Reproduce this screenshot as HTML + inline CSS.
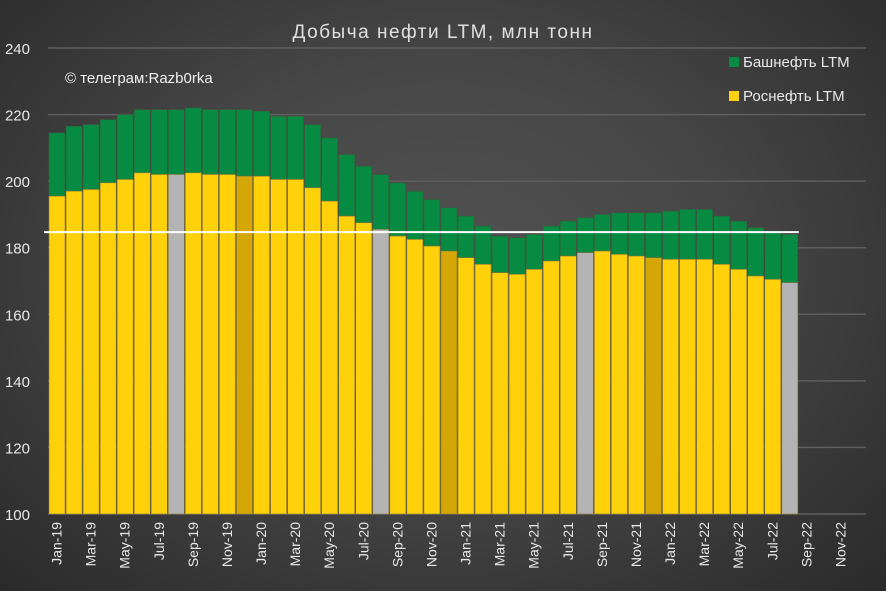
<!DOCTYPE html>
<html><head><meta charset="utf-8"><style>
body{margin:0;width:886px;height:591px;overflow:hidden;font-family:"Liberation Sans",sans-serif}
#bg{position:absolute;left:0;top:0;width:886px;height:591px;background:radial-gradient(ellipse at 50% 45%,#525252 0%,#464646 45%,#2a2a2a 100%)}
svg{position:absolute;left:0;top:0}
</style></head><body>
<div id="bg"></div>
<svg id="c" width="886" height="591"></svg>
<script>
const categories=["Jan-19","Feb-19","Mar-19","Apr-19","May-19","Jun-19","Jul-19","Aug-19","Sep-19","Oct-19","Nov-19","Dec-19","Jan-20","Feb-20","Mar-20","Apr-20","May-20","Jun-20","Jul-20","Aug-20","Sep-20","Oct-20","Nov-20","Dec-20","Jan-21","Feb-21","Mar-21","Apr-21","May-21","Jun-21","Jul-21","Aug-21","Sep-21","Oct-21","Nov-21","Dec-21","Jan-22","Feb-22","Mar-22","Apr-22","May-22","Jun-22","Jul-22","Aug-22","Sep-22","Oct-22","Nov-22","Dec-22"];
const rosneft=[195.5,197,197.5,199.5,200.5,202.5,202,202,202.5,202,202,201.5,201.5,200.5,200.5,198,194,189.5,187.5,185.5,183.5,182.5,180.5,179,177,175,172.5,172,173.5,176,177.5,178.5,179,178,177.5,177,176.5,176.5,176.5,175,173.5,171.5,170.5,169.5];
const totals=[214.5,216.5,217,218.5,220,221.5,221.5,221.5,222,221.5,221.5,221.5,221,219.5,219.5,217,213,208,204.5,202,199.5,197,194.5,192,189.5,186.5,183.5,183,184,186.5,188,189,190,190.5,190.5,190.5,191,191.5,191.5,189.5,188,186,185,184];
const refLine=[184.7];
const yTicks=[100,120,140,160,180,200,220,240];
const NS="http://www.w3.org/2000/svg",svg=document.getElementById('c');
const x0=48,x1=866,yB=514,yT=48,vMin=100,vMax=240;
const step=(x1-x0)/categories.length;
const Y=v=>yB-(v-vMin)/(vMax-vMin)*(yB-yT);
const X=i=>x0+i*step;
function mk(t,a){const e=document.createElementNS(NS,t);for(const k in a)e.setAttribute(k,a[k]);svg.appendChild(e);return e;}
yTicks.forEach(v=>{
 const g=mk('line',{x1:x0,x2:x1,y1:Y(v),y2:Y(v),stroke:'#5e5e5e','stroke-width':1.5});
 
 
 const t=mk('text',{x:30,y:Y(v)+6,'text-anchor':'end',fill:'#e8e8e8','font-size':15});
 t.textContent=v;
 
 
});
totals.forEach((tv,i)=>{
 const r=rosneft[i],bx=X(i)+1,bw=step-1;
 const m=categories[i].slice(0,3);
 let col='#ffd10a';if(m==='Aug')col='#b4b4b4';if(m==='Dec')col='#d4a606';
 const g=mk('rect',{x:bx,y:Y(tv),width:bw,height:Y(r)-Y(tv),fill:'#078a42',stroke:'#3a5a3a','stroke-width':0.6});
 
 
 const y=mk('rect',{x:bx,y:Y(r),width:bw,height:yB-Y(r),fill:col,stroke:'#8a7a3a','stroke-width':0.6});
 
 
});
const rl=mk('line',{x1:44,x2:X(totals.length)+1,y1:Y(refLine[0]),y2:Y(refLine[0]),stroke:'#fff','stroke-width':2});


categories.forEach((c,i)=>{if(i%2)return;
 const cx=X(i)+step/2+5,cy=522;
 const t=mk('text',{x:cx,y:cy,transform:`rotate(-90 ${cx} ${cy})`,'text-anchor':'end',fill:'#e8e8e8','font-size':14});
 t.textContent=c;
 
 
});
const ti=mk('text',{x:443,y:38,'text-anchor':'middle',fill:'#e0e0e0','font-size':19,'letter-spacing':1.5});
ti.textContent='Добыча нефти LTM, млн тонн';


const cp=mk('text',{x:65,y:83,fill:'#f0f0f0','font-size':15});
cp.textContent='© телеграм:Razb0rka';


[['#078a42','Башнефть  LTM',67],['#ffd10a','Роснефть LTM',101]].forEach(([c,l,y])=>{
 const s=mk('rect',{x:729,y:y-10,width:10,height:10,fill:c});
 
 
 const t=mk('text',{x:743,y:y,fill:'#e8e8e8','font-size':15});
 t.textContent=l;
 
 
});
</script>
</body></html>
